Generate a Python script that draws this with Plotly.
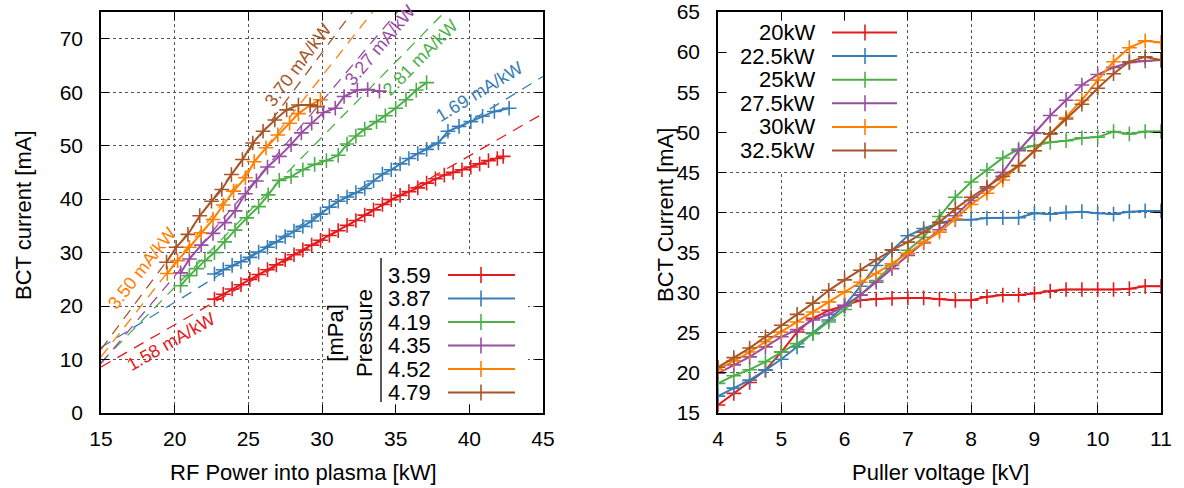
import math
import plotly.graph_objects as go

W, H = 1184, 488
FONT = "Liberation Sans, Arial, Helvetica, sans-serif"

# ---------------- left panel data ----------------
pressure_labels = ["3.59", "3.87", "4.19", "4.35", "4.52", "4.79"]
colors = ["#e41a1c", "#377eb8", "#4daf4a", "#984ea3", "#ff7f00", "#a65628"]

p359_x = [22.7, 23.3, 23.9, 24.5, 25.1, 25.7, 26.3, 26.9, 27.5, 28.1, 28.7, 29.3, 29.9, 30.5, 31.1,
          31.7, 32.3, 32.9, 33.5, 34.1, 34.7, 35.3, 35.9, 36.5, 37.1, 37.7, 38.3, 38.9, 39.5, 40.1,
          40.7, 41.3, 41.9, 42.3]
p359_y = [21.3, 22.2, 23.2, 24.0, 25.0, 25.9, 26.8, 27.7, 28.7, 29.6, 30.5, 31.4, 32.3, 33.2, 34.1,
          35.1, 36.0, 37.0, 38.0, 39.0, 39.9, 40.7, 41.4, 42.1, 43.0, 43.8, 44.5, 45.0, 45.5, 46.0,
          46.6, 47.2, 47.6, 48.0]

p387_x = [22.7, 23.3, 23.9, 24.5, 25.1, 25.7, 26.3, 26.9, 27.5, 28.1, 28.7, 29.3, 29.9, 30.5, 31.1,
          31.7, 32.3, 32.9, 33.5, 34.1, 34.7, 35.3, 35.9, 36.5, 37.1, 37.9, 38.55, 39.3, 40.1, 40.9,
          41.7, 42.7]
p387_y = [26.0, 26.8, 27.6, 28.3, 29.1, 30.1, 31.0, 32.0, 33.0, 34.0, 34.9, 35.9, 37.2, 38.5, 39.6,
          40.4, 41.2, 42.0, 43.4, 44.7, 45.5, 46.6, 47.6, 48.5, 49.3, 50.5, 52.7, 53.6, 54.5, 55.5,
          56.4, 57.0]

p419_x = [20.4, 21.0, 21.5, 22.05, 22.7, 23.4, 24.1, 24.9, 25.7, 26.35, 27.1, 27.9, 28.7, 29.5,
          30.3, 31.1, 31.7, 32.3, 32.9, 33.7, 34.3, 35.0, 35.7, 36.4, 37.1]
p419_y = [23.8, 25.7, 27.0, 28.5, 30.0, 32.0, 34.2, 36.5, 38.6, 40.8, 43.5, 44.2, 45.5, 46.5,
          47.2, 48.2, 50.3, 51.8, 53.1, 54.5, 55.6, 57.0, 58.6, 60.4, 61.8]

p435_x = [20.4, 21.0, 21.8, 22.6, 23.4, 24.1, 24.8, 25.55, 26.3, 27.1, 27.9, 28.6, 29.3, 30.1,
          30.9, 31.5, 32.4, 33.1, 33.9]
p435_y = [26.2, 28.8, 31.4, 33.6, 35.6, 37.8, 41.0, 43.4, 46.0, 48.0, 50.2, 52.4, 54.2, 56.2,
          57.0, 59.2, 60.4, 60.5, 60.2]

p452_x = [19.5, 20.2, 21.0, 21.8, 22.6, 23.3, 24.0, 24.8, 25.4, 26.2, 27.0, 27.8, 28.4, 29.2, 29.9]
p452_y = [26.1, 28.5, 31.0, 33.7, 36.2, 38.9, 41.5, 44.0, 47.0, 49.6, 52.0, 54.2, 56.0, 57.6, 58.6]

p479_x = [19.45, 20.1, 20.9, 21.7, 22.5, 23.2, 23.85, 24.6, 25.3, 26.0, 26.8, 27.6, 28.4, 29.2, 29.7]
p479_y = [28.2, 31.0, 33.4, 36.9, 39.6, 41.8, 44.6, 47.4, 50.5, 52.7, 54.8, 56.7, 57.6, 57.6, 57.3]

left_x = [p359_x, p387_x, p419_x, p435_x, p452_x, p479_x]
left_y = [p359_y, p387_y, p419_y, p435_y, p452_y, p479_y]

fit_slopes = [1.58, 1.69, 2.81, 3.27, 3.50, 3.70]
fit_intercepts = [-15.1, -13.1, -32.7, -39.8, -42.0, -43.6]
fit_x_ends = [15, 45]
fit_labels = ["1.58 mA/kW", "1.69 mA/kW", "2.81 mA/kW", "3.27 mA/kW", "3.50 mA/kW", "3.70 mA/kW"]
fit_label_x = [19.73, 40.64, 36.63, 33.97, 17.81, 28.38]
fit_label_y = [13.27, 60.12, 66.47, 68.80, 27.08, 65.06]

# ---------------- right panel data ----------------
voltage = [4.0, 4.25, 4.5, 4.75, 5.0, 5.25, 5.5, 5.75, 6.0, 6.25, 6.5, 6.75, 7.0, 7.25, 7.5,
           7.75, 8.0, 8.25, 8.5, 8.75, 9.0, 9.25, 9.5, 9.75, 10.0, 10.25, 10.5, 10.75, 11.0]
power_labels = ["20kW", "22.5kW", "25kW", "27.5kW", "30kW", "32.5kW"]
bct_20 = [16.0, 17.45, 18.8, 20.35, 22.6, 25.1, 26.8, 27.8, 28.4, 29.05, 29.2, 29.3, 29.35, 29.35,
          29.2, 29.05, 29.05, 29.5, 29.7, 29.7, 29.9, 30.2, 30.4, 30.4, 30.4, 30.4, 30.5, 30.8, 30.8]
bct_22_5 = [17.1, 18.1, 19.1, 20.35, 21.7, 23.25, 25.0, 26.6, 28.4, 30.8, 33.4, 35.3, 37.1, 38.0,
            38.7, 39.1, 39.1, 39.3, 39.35, 39.35, 39.9, 39.8, 40.0, 40.1, 39.9, 39.8, 40.1, 40.2, 40.2]
bct_25 = [18.7, 19.65, 20.4, 21.4, 22.6, 23.65, 24.9, 26.35, 27.9, 29.7, 31.5, 33.4, 35.3, 36.9,
          39.5, 41.9, 43.8, 45.3, 46.8, 47.9, 48.3, 48.75, 48.95, 49.3, 49.4, 50.1, 49.8, 50.1, 50.1]
bct_27_5 = [19.95, 21.0, 22.0, 23.25, 24.5, 25.4, 26.6, 27.3, 28.4, 29.7, 31.3, 33.0, 34.65, 36.2,
            37.85, 39.6, 41.5, 43.0, 45.0, 47.7, 49.9, 52.1, 54.0, 55.9, 57.2, 58.1, 58.7, 58.9, 59.0]
bct_30 = [20.4, 21.5, 22.6, 23.9, 25.1, 26.35, 27.6, 28.85, 30.1, 31.3, 32.4, 33.6, 34.9, 36.3,
          37.55, 39.2, 41.0, 42.4, 44.05, 45.85, 47.7, 49.8, 51.85, 54.0, 56.5, 58.8, 60.55, 61.4, 61.2]
bct_32_5 = [20.7, 21.9, 23.1, 24.5, 25.95, 27.3, 28.7, 30.3, 31.6, 32.8, 34.1, 35.35, 36.3, 37.55,
            38.8, 40.45, 41.9, 43.2, 44.5, 45.85, 47.7, 49.8, 51.65, 53.5, 55.5, 57.3, 58.8, 59.4, 59.0]
right_y = [bct_20, bct_22_5, bct_25, bct_27_5, bct_30, bct_32_5]

left_x_ticks = [15, 20, 25, 30, 35, 40, 45]
left_y_ticks = [0, 10, 20, 30, 40, 50, 60, 70]
right_x_ticks = [4, 5, 6, 7, 8, 9, 10, 11]
right_y_ticks = [15, 20, 25, 30, 35, 40, 45, 50, 55, 60, 65]

# ---------------- layout geometry (pixels) ----------------
L_X0, L_X1 = 101, 543
R_X0, R_X1 = 718, 1161
P_TOP, P_BOT = 12, 413
LX_RANGE, LY_RANGE = [15, 45], [0, 75]
RX_RANGE, RY_RANGE = [4, 11], [15, 65]


def px(x):
    return x / W


def py(y):
    return 1 - y / H


fig = go.Figure()

# fit lines (dashed)
for m, b, c in zip(fit_slopes, fit_intercepts, colors):
    fig.add_trace(go.Scatter(
        x=fit_x_ends, y=[m * fit_x_ends[0] + b, m * fit_x_ends[1] + b],
        mode="lines", line=dict(color=c, width=1.3, dash="11px,8px"),
        xaxis="x", yaxis="y", hoverinfo="skip"))


def marker_style(c):
    return dict(symbol="cross-thin", size=10.5, line=dict(color=c, width=1.6))


for xs, ys, c, name in zip(left_x, left_y, colors, pressure_labels):
    fig.add_trace(go.Scatter(
        x=xs, y=ys, mode="lines+markers", name=name,
        line=dict(color=c, width=2), marker=marker_style(c),
        xaxis="x", yaxis="y"))

for ys, c, name in zip(right_y, colors, power_labels):
    fig.add_trace(go.Scatter(
        x=voltage, y=ys, mode="lines+markers", name=name,
        line=dict(color=c, width=2), marker=marker_style(c),
        xaxis="x2", yaxis="y2"))

axis_common = dict(
    showline=True, linecolor="black", linewidth=1.5, mirror="ticks",
    ticks="inside", ticklen=8, tickwidth=1.3, tickcolor="black",
    showgrid=True, gridcolor="#555555", griddash="dot", gridwidth=1,
    zeroline=False, tickfont=dict(family=FONT, size=21, color="black"),
    automargin=False, tickmode="array", ticklabeloverflow="allow",
)

fig.update_layout(
    width=W, height=H,
    margin=dict(l=0, r=0, t=0, b=0),
    paper_bgcolor="white", plot_bgcolor="white",
    showlegend=False,
    font=dict(family=FONT, color="black"),
    xaxis=dict(domain=[px(L_X0), px(L_X1)], range=LX_RANGE, tickvals=left_x_ticks,
               anchor="y", ticklabelstandoff=6, **axis_common),
    yaxis=dict(domain=[py(P_BOT), py(P_TOP)], range=LY_RANGE, tickvals=left_y_ticks,
               anchor="x", ticklabelstandoff=12, **axis_common),
    xaxis2=dict(domain=[px(R_X0), px(R_X1)], range=RX_RANGE, tickvals=right_x_ticks,
                anchor="y2", ticklabelstandoff=6, **axis_common),
    yaxis2=dict(domain=[py(P_BOT), py(P_TOP)], range=RY_RANGE, tickvals=right_y_ticks,
                anchor="x2", ticklabelstandoff=12, **axis_common),
)

shapes = []
annotations = []

# opaque key boxes
shapes.append(dict(type="rect", xref="paper", yref="paper", layer="above",
                   x0=px(330), x1=px(528), y0=py(404), y1=py(256),
                   fillcolor="white", line=dict(width=0)))
shapes.append(dict(type="rect", xref="paper", yref="paper", layer="above",
                   x0=px(727), x1=px(906), y0=py(172), y1=py(21),
                   fillcolor="white", line=dict(width=0)))

# left key
shapes.append(dict(type="line", xref="paper", yref="paper", layer="above",
                   x0=px(381), x1=px(381), y0=py(258), y1=py(402),
                   line=dict(color="black", width=1.3)))
annotations.append(dict(xref="paper", yref="paper", x=px(350), y=py(333),
                        text="[mPa]<br>Pressure", textangle=-90, showarrow=False,
                        font=dict(family=FONT, size=22, color="black"),
                        xanchor="center", yanchor="middle"))
for i, (lab, c) in enumerate(zip(pressure_labels, colors)):
    yy = 275 + 23.5 * i
    annotations.append(dict(xref="paper", yref="paper", x=px(386), y=py(yy), text=lab,
                            showarrow=False, xanchor="left", yanchor="middle",
                            font=dict(family=FONT, size=22, color="black")))
    shapes.append(dict(type="line", xref="paper", yref="paper", layer="above",
                       x0=px(448), x1=px(515), y0=py(yy), y1=py(yy),
                       line=dict(color=c, width=2)))
    shapes.append(dict(type="line", xref="paper", yref="paper", layer="above",
                       x0=px(481), x1=px(481), y0=py(yy - 8), y1=py(yy + 8),
                       line=dict(color=c, width=1.6)))

# right key
for i, (lab, c) in enumerate(zip(power_labels, colors)):
    yy = 32.5 + 23.6 * i
    annotations.append(dict(xref="paper", yref="paper", x=px(817), y=py(yy), text=lab,
                            showarrow=False, xanchor="right", yanchor="middle",
                            font=dict(family=FONT, size=22, color="black")))
    shapes.append(dict(type="line", xref="paper", yref="paper", layer="above",
                       x0=px(832), x1=px(897), y0=py(yy), y1=py(yy),
                       line=dict(color=c, width=2)))
    shapes.append(dict(type="line", xref="paper", yref="paper", layer="above",
                       x0=px(865), x1=px(865), y0=py(yy - 8), y1=py(yy + 8),
                       line=dict(color=c, width=1.6)))

# fit labels rotated along lines
sx = (L_X1 - L_X0) / (LX_RANGE[1] - LX_RANGE[0])
sy = (P_BOT - P_TOP) / (LY_RANGE[1] - LY_RANGE[0])
for lab, m, c, lx, ly in zip(fit_labels, fit_slopes, colors, fit_label_x, fit_label_y):
    ang = math.degrees(math.atan(m * sy / sx))
    annotations.append(dict(xref="x", yref="y", x=lx, y=ly, text=lab, textangle=-ang,
                            showarrow=False, xanchor="center", yanchor="middle",
                            font=dict(family=FONT, size=18, color=c)))

# axis titles
title_font = dict(family=FONT, size=22, color="black")
annotations += [
    dict(xref="paper", yref="paper", x=px(303), y=py(472), text="RF Power into plasma [kW]",
         showarrow=False, xanchor="center", yanchor="middle", font=title_font),
    dict(xref="paper", yref="paper", x=px(940), y=py(472), text="Puller voltage [kV]",
         showarrow=False, xanchor="center", yanchor="middle", font=title_font),
    dict(xref="paper", yref="paper", x=px(23), y=py(215), text="BCT current [mA]",
         textangle=-90, showarrow=False, xanchor="center", yanchor="middle", font=title_font),
    dict(xref="paper", yref="paper", x=px(665), y=py(215), text="BCT Current [mA]",
         textangle=-90, showarrow=False, xanchor="center", yanchor="middle", font=title_font),
]

fig.update_layout(shapes=shapes, annotations=annotations)
fig.write_html("out.html", config={"displayModeBar": False},
               post_script="document.body.style.margin='0px';document.body.style.overflow='hidden';")
